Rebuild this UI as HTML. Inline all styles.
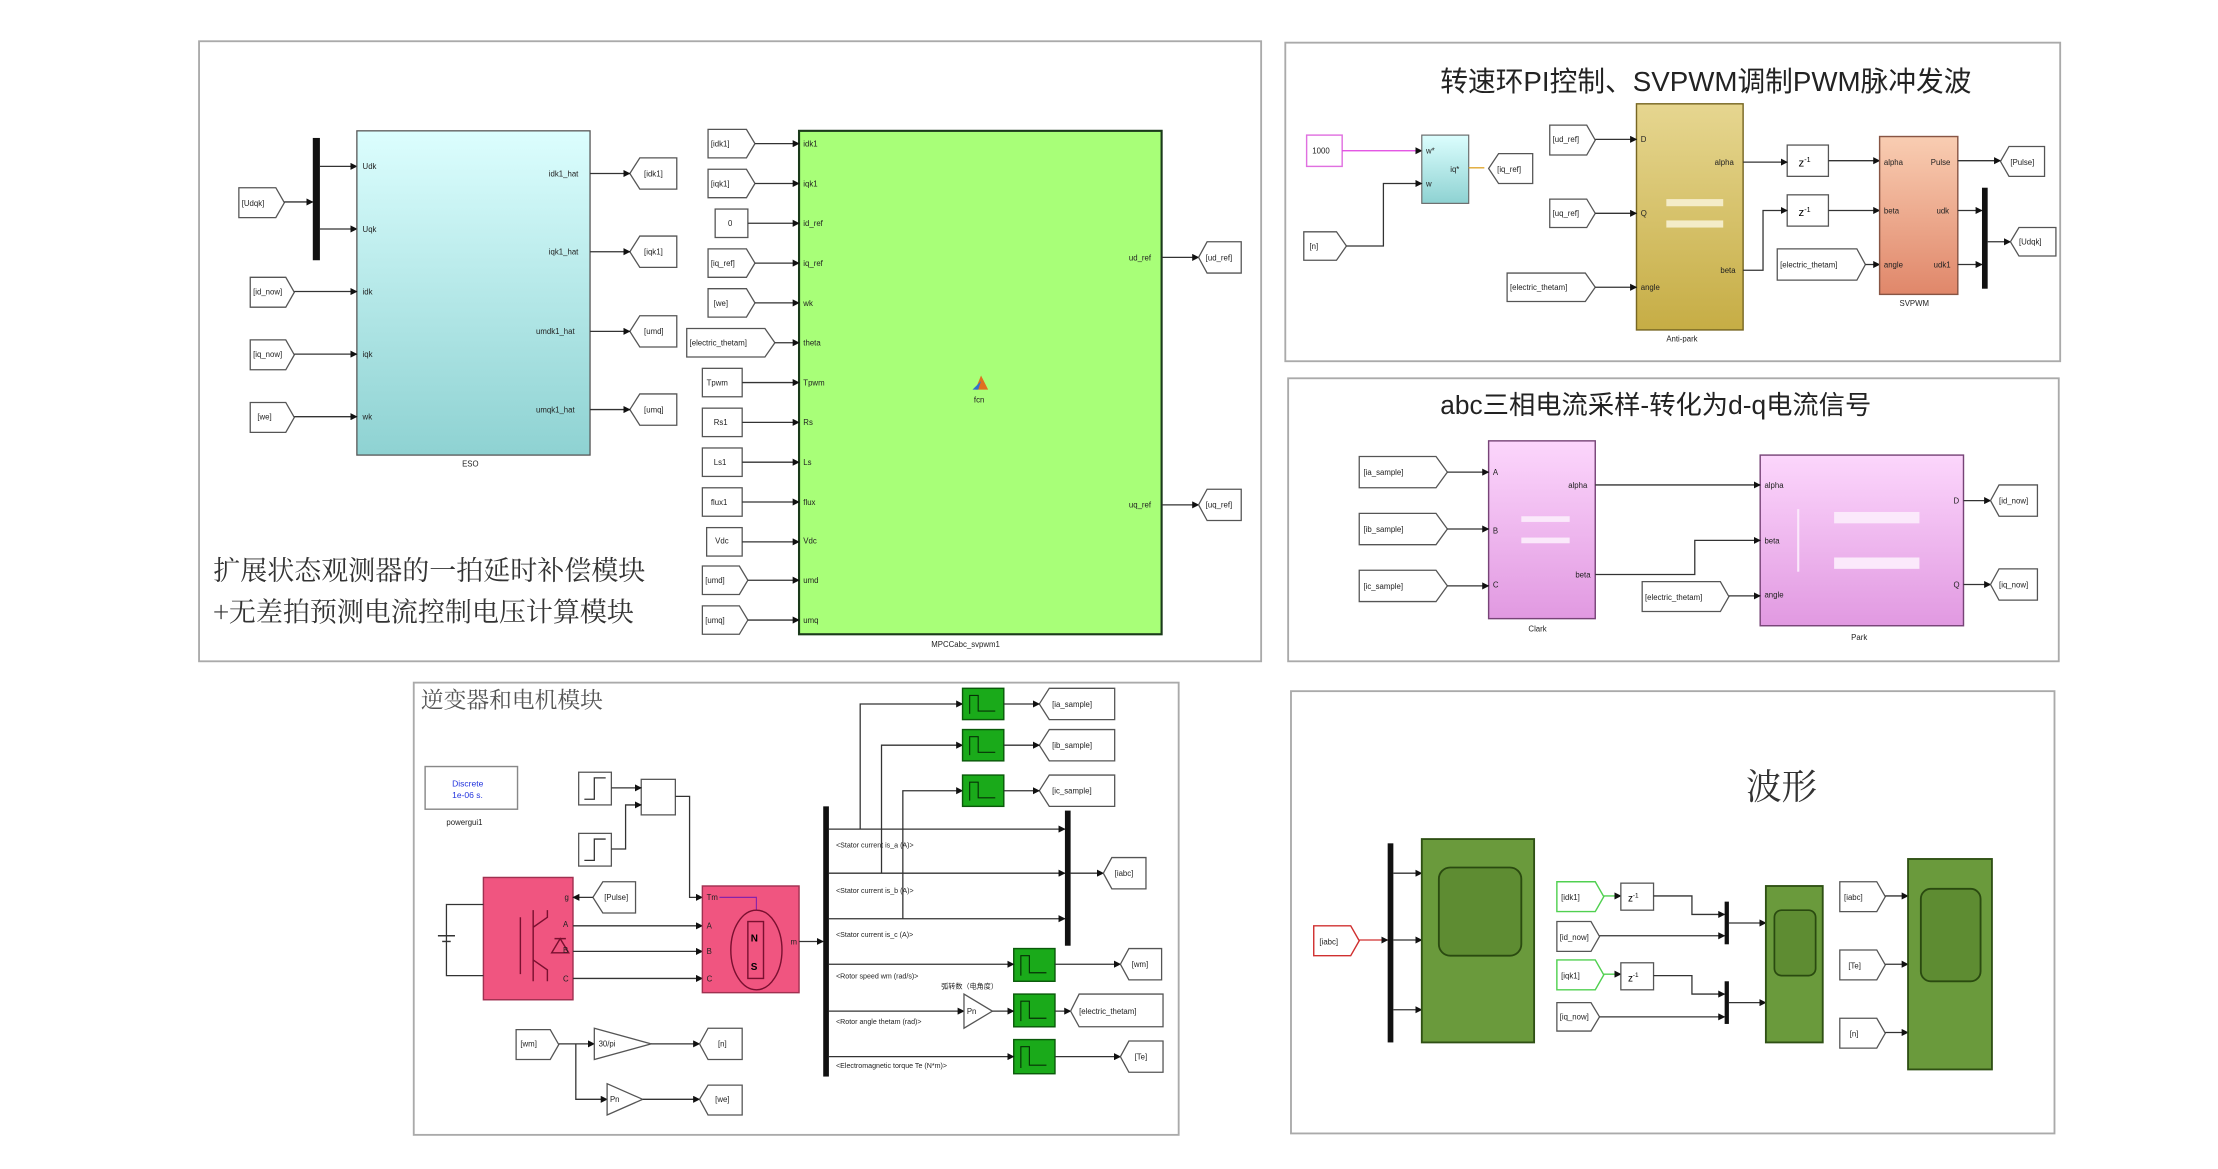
<!DOCTYPE html>
<html><head><meta charset="utf-8"><style>
html,body{margin:0;padding:0;background:#fff;width:2218px;height:1169px;overflow:hidden}
svg{display:block}
text{font-family:"Liberation Sans","Noto Sans CJK SC",sans-serif}
.s{font-size:5.5px;fill:#222}
.p{fill:#fff;stroke:#555;stroke-width:0.9}
.w{stroke:#333;stroke-width:0.9;fill:none}
.pb{fill:#fff;stroke:#aaa;stroke-width:1.3}
</style></head><body>
<svg width="2218" height="1169" viewBox="0 0 1560 822" preserveAspectRatio="none">
<defs>
<marker id="a" markerWidth="5" markerHeight="5" refX="4.5" refY="2.5" orient="auto" markerUnits="userSpaceOnUse"><path d="M0,0L5,2.5L0,5z" fill="#111"/></marker>
<linearGradient id="gc" x1="0" y1="0" x2="0" y2="1"><stop offset="0" stop-color="#dcfefe"/><stop offset="1" stop-color="#8ed2d2"/></linearGradient>
<linearGradient id="gy" x1="0" y1="0" x2="0" y2="1"><stop offset="0" stop-color="#e6d690"/><stop offset="1" stop-color="#c6ad45"/></linearGradient>
<linearGradient id="gs" x1="0" y1="0" x2="0" y2="1"><stop offset="0" stop-color="#f9cdb2"/><stop offset="1" stop-color="#e0876a"/></linearGradient>
<linearGradient id="gp" x1="0" y1="0" x2="0" y2="1"><stop offset="0" stop-color="#fcd6fc"/><stop offset="1" stop-color="#e199e1"/></linearGradient>
</defs>

<!-- panels -->
<rect class="pb" x="140" y="29" width="747" height="436"/>
<rect class="pb" x="904" y="30" width="545" height="224"/>
<rect class="pb" x="906" y="266" width="542" height="199"/>
<rect class="pb" x="291" y="480" width="538" height="318"/>
<rect class="pb" x="908" y="486" width="537" height="311"/>

<!-- ===== Panel 1 ===== -->
<rect x="220" y="97" width="5" height="86" fill="#111"/>
<polygon class="p" points="168,132 194,132 200,142.5 194,153 168,153"/><text class="s" x="170" y="145">[Udqk]</text>
<line class="w" x1="200" y1="142" x2="220" y2="142" marker-end="url(#a)"/>
<line class="w" x1="225" y1="117" x2="251" y2="117" marker-end="url(#a)"/>
<line class="w" x1="225" y1="161" x2="251" y2="161" marker-end="url(#a)"/>
<rect x="251" y="92" width="164" height="228" fill="url(#gc)" stroke="#555" stroke-width="0.9"/>
<text class="s" x="325" y="328">ESO</text>
<g class="s">
<text x="255" y="119">Udk</text><text x="255" y="163">Uqk</text><text x="255" y="207">idk</text><text x="255" y="251">iqk</text><text x="255" y="295">wk</text>
<text x="386" y="124">idk1_hat</text><text x="386" y="179">iqk1_hat</text><text x="377" y="235">umdk1_hat</text><text x="377" y="290">umqk1_hat</text>
</g>
<polygon class="p" points="176,195 201,195 207,205.5 201,216 176,216"/><text class="s" x="178" y="207">[id_now]</text>
<polygon class="p" points="176,239 201,239 207,249.5 201,260 176,260"/><text class="s" x="178" y="251">[iq_now]</text>
<polygon class="p" points="176,283 201,283 207,293.5 201,304 176,304"/><text class="s" x="181" y="295">[we]</text>
<line class="w" x1="207" y1="205" x2="251" y2="205" marker-end="url(#a)"/>
<line class="w" x1="207" y1="249" x2="251" y2="249" marker-end="url(#a)"/>
<line class="w" x1="207" y1="293" x2="251" y2="293" marker-end="url(#a)"/>
<g>
<polygon class="p" points="450,111 476,111 476,133 450,133 443,122"/><text class="s" x="453" y="124">[idk1]</text>
<polygon class="p" points="450,166 476,166 476,188 450,188 443,177"/><text class="s" x="453" y="179">[iqk1]</text>
<polygon class="p" points="450,222 476,222 476,244 450,244 443,233"/><text class="s" x="453" y="235">[umd]</text>
<polygon class="p" points="450,277 476,277 476,299 450,299 443,288"/><text class="s" x="453" y="290">[umq]</text>
<line class="w" x1="415" y1="122" x2="443" y2="122" marker-end="url(#a)"/>
<line class="w" x1="415" y1="177" x2="443" y2="177" marker-end="url(#a)"/>
<line class="w" x1="415" y1="233" x2="443" y2="233" marker-end="url(#a)"/>
<line class="w" x1="415" y1="288" x2="443" y2="288" marker-end="url(#a)"/>
</g>
<rect x="562" y="92" width="255" height="354" fill="#a8ff78" stroke="#1a3a1a" stroke-width="1.5"/>
<text class="s" x="655" y="455">MPCCabc_svpwm1</text>
<path d="M686,274 L690,264 L695,274 Z" fill="#e07020"/><path d="M684,274 L690,268 L688,274Z" fill="#3070d0"/>
<text class="s" x="685" y="283">fcn</text>
<g class="s" fill="#224">
<text x="565" y="103">idk1</text><text x="565" y="131">iqk1</text><text x="565" y="159">id_ref</text><text x="565" y="187">iq_ref</text><text x="565" y="215">wk</text><text x="565" y="243">theta</text><text x="565" y="271">Tpwm</text><text x="565" y="299">Rs</text><text x="565" y="327">Ls</text><text x="565" y="355">flux</text><text x="565" y="382">Vdc</text><text x="565" y="410">umd</text><text x="565" y="438">umq</text>
<text x="794" y="183">ud_ref</text><text x="794" y="357">uq_ref</text>
</g>
<g>
<polygon class="p" points="498,91 525,91 531,101 525,111 498,111"/><text class="s" x="500" y="103">[idk1]</text>
<polygon class="p" points="498,119 525,119 531,129 525,139 498,139"/><text class="s" x="500" y="131">[iqk1]</text>
<rect class="p" x="503" y="147" width="23" height="20"/><text class="s" x="512" y="159">0</text>
<polygon class="p" points="498,175 525,175 531,185 525,195 498,195"/><text class="s" x="500" y="187">[iq_ref]</text>
<polygon class="p" points="498,203 525,203 531,213 525,223 498,223"/><text class="s" x="502" y="215">[we]</text>
<polygon class="p" points="483,231 538,231 545,241 538,251 483,251"/><text class="s" x="485" y="243">[electric_thetam]</text>
<rect class="p" x="494" y="259" width="28" height="20"/><text class="s" x="497" y="271">Tpwm</text>
<rect class="p" x="494" y="287" width="28" height="20"/><text class="s" x="502" y="299">Rs1</text>
<rect class="p" x="494" y="315" width="28" height="20"/><text class="s" x="502" y="327">Ls1</text>
<rect class="p" x="494" y="343" width="28" height="20"/><text class="s" x="500" y="355">flux1</text>
<rect class="p" x="497" y="371" width="25" height="20"/><text class="s" x="503" y="382">Vdc</text>
<polygon class="p" points="494,398 520,398 526,408 520,418 494,418"/><text class="s" x="496" y="410">[umd]</text>
<polygon class="p" points="494,426 520,426 526,436 520,446 494,446"/><text class="s" x="496" y="438">[umq]</text>
</g>
<g class="w">
<line x1="531" y1="101" x2="562" y2="101" marker-end="url(#a)"/>
<line x1="531" y1="129" x2="562" y2="129" marker-end="url(#a)"/>
<line x1="526" y1="157" x2="562" y2="157" marker-end="url(#a)"/>
<line x1="531" y1="185" x2="562" y2="185" marker-end="url(#a)"/>
<line x1="531" y1="213" x2="562" y2="213" marker-end="url(#a)"/>
<line x1="545" y1="241" x2="562" y2="241" marker-end="url(#a)"/>
<line x1="522" y1="269" x2="562" y2="269" marker-end="url(#a)"/>
<line x1="522" y1="297" x2="562" y2="297" marker-end="url(#a)"/>
<line x1="522" y1="325" x2="562" y2="325" marker-end="url(#a)"/>
<line x1="522" y1="353" x2="562" y2="353" marker-end="url(#a)"/>
<line x1="522" y1="381" x2="562" y2="381" marker-end="url(#a)"/>
<line x1="526" y1="408" x2="562" y2="408" marker-end="url(#a)"/>
<line x1="526" y1="436" x2="562" y2="436" marker-end="url(#a)"/>
<line x1="817" y1="181" x2="843" y2="181" marker-end="url(#a)"/>
<line x1="817" y1="355" x2="843" y2="355" marker-end="url(#a)"/>
</g>
<polygon class="p" points="849,170 873,170 873,192 849,192 843,181"/><text class="s" x="848" y="183">[ud_ref]</text>
<polygon class="p" points="849,344 873,344 873,366 849,366 843,355"/><text class="s" x="848" y="357">[uq_ref]</text>
<text x="150" y="408" style="font-family:'Noto Serif CJK SC',serif;font-size:19px" fill="#333">扩展状态观测器的一拍延时补偿模块</text>
<text x="150" y="437" style="font-family:'Noto Serif CJK SC',serif;font-size:19px" fill="#333">+无差拍预测电流控制电压计算模块</text>

<!-- ===== Panel 2 ===== -->
<text x="1013" y="64" style="font-size:19.5px" fill="#222">转速环PI控制、SVPWM调制PWM脉冲发波</text>
<rect x="919" y="95" width="25" height="22" fill="#fff" stroke="#e070e0"/><text class="s" x="923" y="108" fill="#e040e0">1000</text>
<line x1="944" y1="106" x2="1000" y2="106" stroke="#e040e0" stroke-width="0.9" marker-end="url(#a)"/>
<rect x="1000" y="95" width="33" height="48" fill="url(#gc)" stroke="#666" stroke-width="0.8"/>
<text class="s" x="1003" y="108">w*</text><text class="s" x="1003" y="131">w</text><text class="s" x="1020" y="121">iq*</text>
<line x1="1033" y1="118" x2="1044" y2="118" stroke="#dda020" stroke-width="0.9"/>
<polygon class="p" points="1054,108 1078,108 1078,129 1054,129 1047,118.5"/><text class="s" x="1053" y="121">[iq_ref]</text>
<polygon class="p" points="917,163 940,163 947,173 940,183 917,183"/><text class="s" x="921" y="175">[n]</text>
<polyline class="w" points="947,173 973,173 973,129 1000,129" marker-end="url(#a)"/>
<polygon class="p" points="1090,88 1116,88 1122,98.5 1116,109 1090,109"/><text class="s" x="1092" y="100">[ud_ref]</text>
<polygon class="p" points="1090,140 1116,140 1122,150 1116,160 1090,160"/><text class="s" x="1092" y="152">[uq_ref]</text>
<polygon class="p" points="1060,192 1115,192 1122,202 1115,212 1060,212"/><text class="s" x="1062" y="204">[electric_thetam]</text>
<rect x="1151" y="73" width="75" height="159" fill="url(#gy)" stroke="#776622" stroke-width="1"/>
<rect x="1172" y="140" width="40" height="5" fill="#f4ecc8"/><rect x="1172" y="155" width="40" height="5" fill="#f4ecc8"/>
<text class="s" x="1172" y="240">Anti-park</text>
<text class="s" x="1154" y="100">D</text><text class="s" x="1154" y="152">Q</text><text class="s" x="1154" y="204">angle</text><text class="s" x="1206" y="116">alpha</text><text class="s" x="1210" y="192">beta</text>
<line class="w" x1="1122" y1="98" x2="1151" y2="98" marker-end="url(#a)"/>
<line class="w" x1="1122" y1="150" x2="1151" y2="150" marker-end="url(#a)"/>
<line class="w" x1="1122" y1="202" x2="1151" y2="202" marker-end="url(#a)"/>
<rect class="p" x="1257" y="102" width="29" height="22"/><text x="1265" y="117" style="font-size:8px">z<tspan dy="-3" style="font-size:5px">-1</tspan></text>
<rect class="p" x="1257" y="137" width="29" height="22"/><text x="1265" y="152" style="font-size:8px">z<tspan dy="-3" style="font-size:5px">-1</tspan></text>
<line class="w" x1="1226" y1="114" x2="1257" y2="114" marker-end="url(#a)"/>
<polyline class="w" points="1226,190 1240,190 1240,148 1257,148" marker-end="url(#a)"/>
<line class="w" x1="1286" y1="113" x2="1322" y2="113" marker-end="url(#a)"/>
<line class="w" x1="1286" y1="148" x2="1322" y2="148" marker-end="url(#a)"/>
<polygon class="p" points="1250,175 1306,175 1312,186 1306,197 1250,197"/><text class="s" x="1252" y="188">[electric_thetam]</text>
<line class="w" x1="1312" y1="186" x2="1322" y2="186" marker-end="url(#a)"/>
<rect x="1322" y="96" width="55" height="111" fill="url(#gs)" stroke="#885544" stroke-width="1"/>
<text class="s" x="1336" y="215">SVPWM</text>
<text class="s" x="1325" y="116">alpha</text><text class="s" x="1325" y="150">beta</text><text class="s" x="1325" y="188">angle</text>
<text class="s" x="1358" y="116">Pulse</text><text class="s" x="1362" y="150">udk</text><text class="s" x="1360" y="188">udk1</text>
<rect x="1394" y="132" width="4" height="71" fill="#111"/>
<line class="w" x1="1377" y1="113" x2="1407" y2="113" marker-end="url(#a)"/>
<line class="w" x1="1377" y1="148" x2="1394" y2="148" marker-end="url(#a)"/>
<line class="w" x1="1377" y1="186" x2="1394" y2="186" marker-end="url(#a)"/>
<polygon class="p" points="1413,103 1438,103 1438,124 1413,124 1407,113.5"/><text class="s" x="1414" y="116">[Pulse]</text>
<line class="w" x1="1398" y1="170" x2="1414" y2="170" marker-end="url(#a)"/>
<polygon class="p" points="1420,160 1446,160 1446,180 1420,180 1414,170"/><text class="s" x="1420" y="172">[Udqk]</text>

<!-- ===== Panel 3 ===== -->
<text x="1013" y="291" style="font-size:18.5px" fill="#222">abc三相电流采样-转化为d-q电流信号</text>
<polygon class="p" points="956,321 1010,321 1018,332 1010,343 956,343"/><text class="s" x="959" y="334">[ia_sample]</text>
<polygon class="p" points="956,361 1010,361 1018,372 1010,383 956,383"/><text class="s" x="959" y="374">[ib_sample]</text>
<polygon class="p" points="956,401 1010,401 1018,412 1010,423 956,423"/><text class="s" x="959" y="414">[ic_sample]</text>
<rect x="1047" y="310" width="75" height="125" fill="url(#gp)" stroke="#774477" stroke-width="1"/>
<rect x="1070" y="363" width="34" height="4" fill="#fbe9fb"/><rect x="1070" y="378" width="34" height="4" fill="#fbe9fb"/>
<text class="s" x="1075" y="444">Clark</text>
<text class="s" x="1050" y="334">A</text><text class="s" x="1050" y="375">B</text><text class="s" x="1050" y="413">C</text><text class="s" x="1103" y="343">alpha</text><text class="s" x="1108" y="406">beta</text>
<line class="w" x1="1018" y1="332" x2="1047" y2="332" marker-end="url(#a)"/>
<line class="w" x1="1018" y1="372" x2="1047" y2="372" marker-end="url(#a)"/>
<line class="w" x1="1018" y1="412" x2="1047" y2="412" marker-end="url(#a)"/>
<rect x="1238" y="320" width="143" height="120" fill="url(#gp)" stroke="#774477" stroke-width="1"/>
<rect x="1290" y="360" width="60" height="8" fill="#fbe9fb"/><rect x="1290" y="392" width="60" height="8" fill="#fbe9fb"/><rect x="1264" y="358" width="1.5" height="44" fill="#fbe9fb"/>
<text class="s" x="1302" y="450">Park</text>
<text class="s" x="1241" y="343">alpha</text><text class="s" x="1241" y="382">beta</text><text class="s" x="1241" y="420">angle</text><text class="s" x="1374" y="354">D</text><text class="s" x="1374" y="413">Q</text>
<line class="w" x1="1122" y1="341" x2="1238" y2="341" marker-end="url(#a)"/>
<polyline class="w" points="1122,404 1192,404 1192,380 1238,380" marker-end="url(#a)"/>
<polygon class="p" points="1155,409 1210,409 1216,419.5 1210,430 1155,430"/><text class="s" x="1157" y="422">[electric_thetam]</text>
<line class="w" x1="1216" y1="419" x2="1238" y2="419" marker-end="url(#a)"/>
<line class="w" x1="1381" y1="352" x2="1400" y2="352" marker-end="url(#a)"/>
<line class="w" x1="1381" y1="411" x2="1400" y2="411" marker-end="url(#a)"/>
<polygon class="p" points="1406,341 1433,341 1433,363 1406,363 1400,352"/><text class="s" x="1406" y="354">[id_now]</text>
<polygon class="p" points="1406,400 1433,400 1433,422 1406,422 1400,411"/><text class="s" x="1406" y="413">[iq_now]</text>

<!-- ===== Panel 4 ===== -->
<text x="296" y="498" style="font-family:'Noto Serif CJK SC',serif;font-size:16px" fill="#555">逆变器和电机模块</text>
<rect x="299" y="539" width="65" height="30" fill="#fff" stroke="#888"/>
<text x="318" y="553" style="font-size:6px" fill="#2233dd">Discrete</text><text x="318" y="561" style="font-size:6px" fill="#2233dd">1e-06 s.</text>
<text class="s" x="314" y="580">powergui1</text>
<rect class="p" x="407" y="543" width="23" height="23"/><path class="w" d="M411,562 H418 V547 H426"/>
<rect class="p" x="407" y="586" width="23" height="23"/><path class="w" d="M411,605 H418 V590 H426"/>
<rect class="p" x="451" y="548" width="24" height="25"/>
<line class="w" x1="430" y1="554" x2="451" y2="554" marker-end="url(#a)"/>
<polyline class="w" points="430,597 440,597 440,566 451,566" marker-end="url(#a)"/>
<polyline class="w" points="475,560 485,560 485,631 494,631" marker-end="url(#a)"/>
<rect x="340" y="617" width="63" height="86" fill="#f05580" stroke="#a03050"/>
<path d="M375,640 V690 M366,645 V685 M375,652 L385,645 V640 M375,675 L385,682 V690 M390,660 H398 M388,670 L394,660 L400,670 Z" stroke="#7a1030" stroke-width="1" fill="none"/>
<text class="s" x="397" y="633" fill="#8822aa">g</text><text class="s" x="396" y="652">A</text><text class="s" x="396" y="670">B</text><text class="s" x="396" y="690">C</text>
<polyline class="w" points="340,636 314,636 314,686 340,686"/><line x1="308" y1="658" x2="320" y2="658" stroke="#333"/><line x1="311" y1="662" x2="317" y2="662" stroke="#333"/>
<polygon class="p" points="424,620 447,620 447,642 424,642 417,631"/><text class="s" x="425" y="633">[Pulse]</text>
<line class="w" x1="417" y1="631" x2="403" y2="631" marker-end="url(#a)"/>
<line class="w" x1="403" y1="651" x2="494" y2="651" marker-end="url(#a)"/>
<line class="w" x1="403" y1="669" x2="494" y2="669" marker-end="url(#a)"/>
<line class="w" x1="403" y1="688" x2="494" y2="688" marker-end="url(#a)"/>
<rect x="494" y="623" width="68" height="75" fill="#f05580" stroke="#a03050"/>
<text class="s" x="497" y="633" fill="#8822aa">Tm</text><text class="s" x="497" y="653">A</text><text class="s" x="497" y="671">B</text><text class="s" x="497" y="690">C</text><text class="s" x="556" y="664">m</text>
<path d="M506,631 H532 V640" stroke="#8822aa" stroke-width="0.8" fill="none"/>
<ellipse cx="532" cy="668" rx="18" ry="28" fill="none" stroke="#7a1030" stroke-width="1"/>
<rect x="526" y="648" width="11" height="40" fill="none" stroke="#7a1030"/><text x="528" y="662" style="font-size:7px;font-weight:bold">N</text><text x="528" y="682" style="font-size:7px;font-weight:bold">S</text>
<line class="w" x1="562" y1="662" x2="579" y2="662" marker-end="url(#a)"/>
<rect x="579" y="567" width="4" height="190" fill="#111"/>
<rect x="749" y="570" width="4" height="95" fill="#111"/>
<g class="s" style="font-size:5px">
<text x="588" y="596">&lt;Stator current is_a (A)&gt;</text><text x="588" y="628">&lt;Stator current is_b (A)&gt;</text><text x="588" y="659">&lt;Stator current is_c (A)&gt;</text>
<text x="588" y="688">&lt;Rotor speed wm (rad/s)&gt;</text><text x="588" y="720">&lt;Rotor angle thetam (rad)&gt;</text><text x="588" y="751">&lt;Electromagnetic torque Te (N*m)&gt;</text>
<text x="662" y="695">弧转数（电角度）</text>
</g>
<line class="w" x1="583" y1="583" x2="749" y2="583" marker-end="url(#a)"/>
<line class="w" x1="583" y1="614" x2="749" y2="614" marker-end="url(#a)"/>
<line class="w" x1="583" y1="646" x2="749" y2="646" marker-end="url(#a)"/>
<polyline class="w" points="605,583 605,495 677,495" marker-end="url(#a)"/>
<polyline class="w" points="620,614 620,524 677,524" marker-end="url(#a)"/>
<polyline class="w" points="635,646 635,556 677,556" marker-end="url(#a)"/>
<g fill="#1aaa1a" stroke="#0a5a0a" stroke-width="1">
<rect x="677" y="484" width="29" height="22"/><rect x="677" y="513" width="29" height="22"/><rect x="677" y="545" width="29" height="22"/>
<rect x="713" y="667" width="29" height="23"/><rect x="713" y="699" width="29" height="23"/><rect x="713" y="731" width="29" height="24"/>
</g>
<g stroke="#063006" stroke-width="0.8" fill="none">
<path d="M682,502 V489 H688 V500 H700"/><path d="M682,531 V518 H688 V529 H700"/><path d="M682,563 V550 H688 V561 H700"/>
<path d="M718,686 V672 H724 V684 H736"/><path d="M718,718 V704 H724 V716 H736"/><path d="M718,751 V736 H724 V749 H736"/>
</g>
<polygon class="p" points="738,484 784,484 784,506 738,506 731,495"/><text class="s" x="740" y="497">[ia_sample]</text>
<polygon class="p" points="738,513 784,513 784,535 738,535 731,524"/><text class="s" x="740" y="526">[ib_sample]</text>
<polygon class="p" points="738,545 784,545 784,567 738,567 731,556"/><text class="s" x="740" y="558">[ic_sample]</text>
<line class="w" x1="706" y1="495" x2="731" y2="495" marker-end="url(#a)"/>
<line class="w" x1="706" y1="524" x2="731" y2="524" marker-end="url(#a)"/>
<line class="w" x1="706" y1="556" x2="731" y2="556" marker-end="url(#a)"/>
<line class="w" x1="753" y1="614" x2="776" y2="614" marker-end="url(#a)"/>
<polygon class="p" points="782,603 806,603 806,625 782,625 776,614"/><text class="s" x="784" y="616">[iabc]</text>
<line class="w" x1="583" y1="678" x2="713" y2="678" marker-end="url(#a)"/>
<line class="w" x1="583" y1="711" x2="678" y2="711" marker-end="url(#a)"/>
<polygon class="p" points="678,699 698,711 678,723"/><text class="s" x="680" y="713">Pn</text>
<line class="w" x1="698" y1="711" x2="713" y2="711" marker-end="url(#a)"/>
<line class="w" x1="583" y1="743" x2="713" y2="743" marker-end="url(#a)"/>
<line class="w" x1="742" y1="678" x2="788" y2="678" marker-end="url(#a)"/>
<line class="w" x1="742" y1="711" x2="753" y2="711" marker-end="url(#a)"/>
<line class="w" x1="742" y1="743" x2="788" y2="743" marker-end="url(#a)"/>
<polygon class="p" points="794,667 817,667 817,689 794,689 788,678"/><text class="s" x="796" y="680">[wm]</text>
<polygon class="p" points="759,699 818,699 818,722 759,722 753,711"/><text class="s" x="759" y="713">[electric_thetam]</text>
<polygon class="p" points="794,732 818,732 818,754 794,754 788,743"/><text class="s" x="798" y="745">[Te]</text>
<polygon class="p" points="363,724 387,724 393,734.5 387,745 363,745"/><text class="s" x="366" y="736">[wm]</text>
<line class="w" x1="393" y1="734" x2="418" y2="734" marker-end="url(#a)"/>
<polygon class="p" points="418,723 458,734 418,745"/><text class="s" x="421" y="736">30/pi</text>
<line class="w" x1="458" y1="734" x2="492" y2="734" marker-end="url(#a)"/>
<polygon class="p" points="498,723 522,723 522,745 498,745 492,734"/><text class="s" x="505" y="736">[n]</text>
<polyline class="w" points="405,734 405,773 427,773" marker-end="url(#a)"/>
<polygon class="p" points="427,762 452,773 427,784"/><text class="s" x="429" y="775">Pn</text>
<line class="w" x1="452" y1="773" x2="492" y2="773" marker-end="url(#a)"/>
<polygon class="p" points="498,763 522,763 522,784 498,784 492,773"/><text class="s" x="503" y="775">[we]</text>

<!-- ===== Panel 5 ===== -->
<text x="1228" y="562" style="font-family:'Noto Serif CJK SC',serif;font-size:25px" fill="#333">波形</text>
<polygon points="924,651 950,651 956,661.5 950,672 924,672" fill="#fff" stroke="#d03030"/><text class="s" x="928" y="664" fill="#d03030">[iabc]</text>
<line x1="956" y1="661" x2="976" y2="661" stroke="#d03030" stroke-width="0.9" marker-end="url(#a)"/>
<rect x="976" y="593" width="4" height="140" fill="#111"/>
<line class="w" x1="980" y1="614" x2="1000" y2="614" marker-end="url(#a)"/>
<line class="w" x1="980" y1="661" x2="1000" y2="661" marker-end="url(#a)"/>
<line class="w" x1="980" y1="710" x2="1000" y2="710" marker-end="url(#a)"/>
<rect x="1000" y="590" width="79" height="143" fill="#6a9a3c" stroke="#2f5014" stroke-width="1.3"/>
<rect x="1012" y="610" width="58" height="62" rx="8" fill="#5e8c32" stroke="#2a4a10" stroke-width="1.3"/>
<polygon points="1095,620 1122,620 1128,630.5 1122,641 1095,641" fill="#fff" stroke="#50d050"/><text class="s" x="1098" y="633" fill="#30b030">[idk1]</text>
<polygon class="p" points="1095,648 1119,648 1125,658.5 1119,669 1095,669"/><text class="s" x="1097" y="661">[id_now]</text>
<polygon points="1095,675 1122,675 1128,685.5 1122,696 1095,696" fill="#fff" stroke="#50d050"/><text class="s" x="1098" y="688" fill="#30b030">[iqk1]</text>
<polygon class="p" points="1095,705 1119,705 1125,715 1119,725 1095,725"/><text class="s" x="1097" y="717">[iq_now]</text>
<line x1="1128" y1="630" x2="1140" y2="630" stroke="#50d050" marker-end="url(#a)"/>
<line x1="1128" y1="685" x2="1140" y2="685" stroke="#50d050" marker-end="url(#a)"/>
<rect class="p" x="1140" y="621" width="23" height="19"/><text x="1145" y="634" style="font-size:7px">z<tspan dy="-3" style="font-size:4.5px">-1</tspan></text>
<rect class="p" x="1140" y="677" width="23" height="19"/><text x="1145" y="690" style="font-size:7px">z<tspan dy="-3" style="font-size:4.5px">-1</tspan></text>
<rect x="1213" y="634" width="3" height="30" fill="#111"/><rect x="1213" y="690" width="3" height="30" fill="#111"/>
<polyline class="w" points="1163,630 1190,630 1190,643 1213,643" marker-end="url(#a)"/>
<line class="w" x1="1125" y1="658" x2="1213" y2="658" marker-end="url(#a)"/>
<polyline class="w" points="1163,686 1190,686 1190,699 1213,699" marker-end="url(#a)"/>
<line class="w" x1="1125" y1="715" x2="1213" y2="715" marker-end="url(#a)"/>
<line class="w" x1="1216" y1="649" x2="1242" y2="649" marker-end="url(#a)"/>
<line class="w" x1="1216" y1="705" x2="1242" y2="705" marker-end="url(#a)"/>
<rect x="1242" y="623" width="40" height="110" fill="#6a9a3c" stroke="#2f5014" stroke-width="1.3"/>
<rect x="1248" y="640" width="29" height="46" rx="5" fill="#5e8c32" stroke="#2a4a10" stroke-width="1.2"/>
<polygon class="p" points="1294,620 1320,620 1326,630.5 1320,641 1294,641"/><text class="s" x="1297" y="633">[iabc]</text>
<polygon class="p" points="1294,668 1320,668 1326,678.5 1320,689 1294,689"/><text class="s" x="1300" y="681">[Te]</text>
<polygon class="p" points="1294,716 1320,716 1326,726.5 1320,737 1294,737"/><text class="s" x="1301" y="729">[n]</text>
<line class="w" x1="1326" y1="630" x2="1342" y2="630" marker-end="url(#a)"/>
<line class="w" x1="1326" y1="678" x2="1342" y2="678" marker-end="url(#a)"/>
<line class="w" x1="1326" y1="726" x2="1342" y2="726" marker-end="url(#a)"/>
<rect x="1342" y="604" width="59" height="148" fill="#6a9a3c" stroke="#2f5014" stroke-width="1.3"/>
<rect x="1351" y="625" width="42" height="65" rx="7" fill="#5e8c32" stroke="#2a4a10" stroke-width="1.3"/>
</svg>
</body></html>
